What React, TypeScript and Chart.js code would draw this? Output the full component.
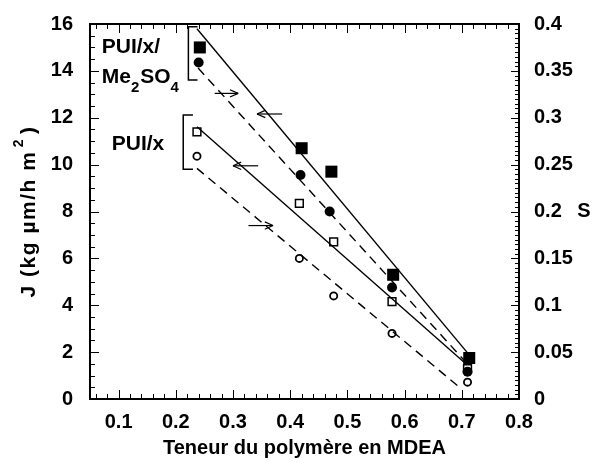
import React, { useEffect, useRef } from "react";
import { Chart, registerables } from "chart.js";

Chart.register(...registerables);

// ---------- data ----------
const filledSquareX = [0.242, 0.42, 0.472, 0.58, 0.713];
const filledSquareJ = [15.0, 10.7, 9.7, 5.3, 1.75];

const filledCircleX = [0.24, 0.418, 0.469, 0.578, 0.71];
const filledCircleS = [0.359, 0.239, 0.2, 0.119, 0.029];

const openSquareX = [0.237, 0.416, 0.476, 0.578, 0.71];
const openSquareJ = [11.4, 8.35, 6.7, 4.15, 1.3];

const openCircleX = [0.237, 0.416, 0.476, 0.578, 0.71];
const openCircleS = [0.259, 0.15, 0.11, 0.07, 0.018];

// fitted lines (end points)
const fitJMeX = [0.237, 0.714];
const fitJMeY = [15.8, 1.85];
const fitSMeX = [0.239, 0.709];
const fitSMeY = [0.353, 0.038];
const fitJPuiX = [0.237, 0.707];
const fitJPuiY = [11.62, 1.5];
const fitSPuiX = [0.237, 0.697];
const fitSPuiY = [0.246, 0.012];

// tick labels
const xTickLabels = [0.1, 0.2, 0.3, 0.4, 0.5, 0.6, 0.7, 0.8];
const jTickLabels = [0, 2, 4, 6, 8, 10, 12, 14, 16];
const sTickLabels = [0, 0.05, 0.1, 0.15, 0.2, 0.25, 0.3, 0.35, 0.4];

// tick marks: index range, ticks per labelled step, minor step
const xTickMarks = { first: 3, last: 40, per: 5, step: 0.02 };
const jTickMarks = { first: 0, last: 32, per: 4, step: 0.5 };
const sTickMarks = { first: 0, last: 80, per: 10, step: 0.005 };

// annotations (data units)
const arrowsJ = [
  { from: 0.386, to: 0.342, y: 12.16 },
  { from: 0.344, to: 0.3, y: 9.95 },
];
const arrowsS = [
  { from: 0.268, to: 0.309, y: 0.326 },
  { from: 0.327, to: 0.37, y: 0.185 },
];
const brackets = [
  { x: 0.222, hook: 0.238, top: 15.88, bottom: 13.61 },
  { x: 0.213, hook: 0.23, top: 12.12, bottom: 9.8 },
];
const groupLabels = [
  { x: 0.0705, y: 15.03, parts: [["PUI/x/", false]] },
  { x: 0.0705, y: 13.75, parts: [["Me", false], ["2", true], ["SO", false], ["4", true]] },
  { x: 0.088, y: 10.88, parts: [["PUI/x", false]] },
];

const xTitle = "Teneur du polymère en MDEA";
const jTitle = ["J (kg µm/h m", "2", ")"];
const sTitle = "S";

const FAMILY = 'Arial, "Liberation Sans", sans-serif';

const pts = (xs: number[], ys: number[]) => xs.map((x, i) => ({ x, y: ys[i] }));

function drawTicks(chart: any, ctx: CanvasRenderingContext2D) {
  const sx = chart.scales.x;
  const sy = chart.scales.y;
  const sy2 = chart.scales.y2;
  const ca = chart.chartArea;
  ctx.save();
  ctx.setTransform(1, 0, 0, 1, 0, 0);
  ctx.globalAlpha = 1;
  ctx.globalCompositeOperation = "source-over";
  ctx.fillStyle = "#000000";
  for (let i = xTickMarks.first; i <= xTickMarks.last; i++) {
    const px = Math.round(sx.getPixelForValue(i * xTickMarks.step));
    const len = i % xTickMarks.per === 0 ? 9 : 5;
    ctx.fillRect(px, ca.bottom - len, 1, len);
    ctx.fillRect(px, ca.top, 1, len);
  }
  for (let i = jTickMarks.first; i <= jTickMarks.last; i++) {
    const py = Math.round(sy.getPixelForValue(i * jTickMarks.step));
    const len = i % jTickMarks.per === 0 ? 9 : 5;
    ctx.fillRect(ca.left, py, len, 1);
  }
  for (let i = sTickMarks.first; i <= sTickMarks.last; i++) {
    const py = Math.round(sy2.getPixelForValue(i * sTickMarks.step));
    const len = i % sTickMarks.per === 0 ? 8 : 4;
    ctx.fillRect(ca.right - len, py, len, 1);
  }
  ctx.restore();
}

const decor = {
  id: "decor",
  afterDraw(chart: any) {
    const { ctx, scales } = chart;
    const x = scales.x, y = scales.y, y2 = scales.y2;
    const ca = chart.chartArea;
    ctx.save();
    ctx.strokeStyle = "#000";
    ctx.fillStyle = "#000";
    ctx.setLineDash([]);
    const seg = (a: number, b: number, c: number, d: number) => {
      ctx.beginPath();
      ctx.moveTo(a, b);
      ctx.lineTo(c, d);
      ctx.stroke();
    };
    ctx.lineWidth = 1.2;
    const arrow = (a: any, sc: any) => {
      const x1 = x.getPixelForValue(a.from);
      const x2 = x.getPixelForValue(a.to);
      const py = sc.getPixelForValue(a.y);
      seg(x1, py, x2, py);
      const dir = x2 > x1 ? -1 : 1;
      const hl = 9, ang = 0.42;
      seg(x2, py, x2 + dir * hl * Math.cos(ang), py - hl * Math.sin(ang));
      seg(x2, py, x2 + dir * hl * Math.cos(ang), py + hl * Math.sin(ang));
    };
    arrowsJ.forEach((a) => arrow(a, y));
    arrowsS.forEach((a) => arrow(a, y2));
    ctx.lineWidth = 1.5;
    brackets.forEach((b) => {
      const bx = x.getPixelForValue(b.x);
      const hx = x.getPixelForValue(b.hook);
      const t = y.getPixelForValue(b.top);
      const bt = y.getPixelForValue(b.bottom);
      ctx.beginPath();
      ctx.moveTo(hx, t);
      ctx.lineTo(bx, t);
      ctx.lineTo(bx, bt);
      ctx.lineTo(hx, bt);
      ctx.stroke();
    });
    ctx.textBaseline = "middle";
    ctx.textAlign = "left";
    groupLabels.forEach((g) => {
      let px = x.getPixelForValue(g.x);
      const py = y.getPixelForValue(g.y);
      g.parts.forEach(([txt, sub]: any) => {
        ctx.font = sub ? `bold 15px ${FAMILY}` : `bold 21px ${FAMILY}`;
        ctx.fillText(txt, px, sub ? py + 11 : py);
        px += ctx.measureText(txt).width + (sub ? 1 : 0);
      });
    });
    ctx.font = `bold 20px ${FAMILY}`;
    ctx.textAlign = "center";
    ctx.fillText(sTitle, y2.right - 10, (ca.top + ca.bottom) / 2);
    ctx.restore();

    ctx.save();
    ctx.fillStyle = "#000";
    ctx.textBaseline = "middle";
    ctx.translate(29, (ca.top + ca.bottom) / 2);
    ctx.rotate(-Math.PI / 2);
    ctx.textAlign = "left";
    try {
      (ctx as any).letterSpacing = "1.5px";
    } catch (e) {}
    const fMain = `bold 21px ${FAMILY}`;
    const fSup = `bold 14px ${FAMILY}`;
    ctx.font = fMain;
    const w0 = ctx.measureText(jTitle[0] + " ").width;
    const w2 = ctx.measureText(jTitle[2]).width;
    ctx.font = fSup;
    const w1 = ctx.measureText(jTitle[1]).width;
    let cx = -(w0 + w1 + w2) / 2;
    ctx.font = fMain;
    ctx.fillText(jTitle[0], cx, 0);
    cx += w0;
    ctx.font = fSup;
    ctx.fillText(jTitle[1], cx - 4, -10);
    cx += w1;
    ctx.font = fMain;
    ctx.fillText(jTitle[2], cx, 0);
    try {
      (ctx as any).letterSpacing = "0px";
    } catch (e) {}
    ctx.restore();

    drawTicks(chart, ctx);
  },
};

export default function App() {
  const ref = useRef<HTMLCanvasElement | null>(null);
  const overlay = useRef<HTMLCanvasElement | null>(null);
  useEffect(() => {
    if (!ref.current) return;
    const tickFont = { family: FAMILY, size: 20, weight: "bold" as const };
    const lineDs = (xs: number[], ys: number[], axis: string, dashed: boolean) => ({
      type: "scatter" as const,
      data: pts(xs, ys),
      yAxisID: axis,
      showLine: true,
      borderColor: "#000",
      borderWidth: 1.4,
      borderDash: dashed ? [9, 6] : [],
      pointRadius: 0,
      fill: false,
    });
    const chart = new Chart(ref.current, {
      type: "scatter",
      data: {
        datasets: [
          lineDs(fitJMeX, fitJMeY, "y", false),
          lineDs(fitSMeX, fitSMeY, "y2", true),
          lineDs(fitJPuiX, fitJPuiY, "y", false),
          lineDs(fitSPuiX, fitSPuiY, "y2", true),
          {
            data: pts(filledSquareX, filledSquareJ),
            yAxisID: "y",
            pointStyle: "rect",
            pointRadius: 8.5,
            backgroundColor: "#000",
            borderColor: "#000",
            borderWidth: 0,
          },
          {
            data: pts(filledCircleX, filledCircleS),
            yAxisID: "y2",
            pointStyle: "circle",
            pointRadius: 5,
            backgroundColor: "#000",
            borderColor: "#000",
            borderWidth: 0,
          },
          {
            data: pts(openSquareX, openSquareJ),
            yAxisID: "y",
            pointStyle: "rect",
            pointRadius: 5.5,
            backgroundColor: "#fff",
            borderColor: "#000",
            borderWidth: 1.5,
          },
          {
            data: pts(openCircleX, openCircleS),
            yAxisID: "y2",
            pointStyle: "circle",
            pointRadius: 3.6,
            backgroundColor: "#fff",
            borderColor: "#000",
            borderWidth: 1.8,
          },
        ],
      },
      options: {
        animation: false,
        responsive: false,
        layout: { padding: 0 },
        plugins: { legend: { display: false }, tooltip: { enabled: false } },
        scales: {
          x: {
            type: "linear",
            position: "bottom",
            min: 0.05,
            max: 0.8,
            grid: { display: false },
            border: { display: true, color: "#000", width: 2 },
            ticks: { color: "#000", font: tickFont, padding: 3, callback: (v: any) => String(v) },
            afterBuildTicks: (s: any) => {
              s.ticks = xTickLabels.map((v) => ({ value: v }));
            },
            afterFit: (s: any) => {
              s.height = 64;
            },
            title: {
              display: true,
              text: xTitle,
              color: "#000",
              font: { family: FAMILY, size: 20, weight: "bold" },
              padding: { top: 0, bottom: 3 },
            },
          },
          xTop: {
            type: "linear",
            position: "top",
            min: 0.05,
            max: 0.8,
            grid: { display: false },
            border: { display: true, color: "#000", width: 2 },
            ticks: { display: false },
            afterFit: (s: any) => {
              s.height = 24;
            },
          },
          y: {
            type: "linear",
            position: "left",
            min: 0,
            max: 16,
            grid: { display: false },
            border: { display: true, color: "#000", width: 2 },
            ticks: { color: "#000", font: tickFont, padding: 9, callback: (v: any) => String(v) },
            afterBuildTicks: (s: any) => {
              s.ticks = jTickLabels.map((v) => ({ value: v }));
            },
            afterFit: (s: any) => {
              s.width = 90;
            },
          },
          y2: {
            type: "linear",
            position: "right",
            min: 0,
            max: 0.4,
            grid: { display: false },
            border: { display: true, color: "#000", width: 2 },
            ticks: { color: "#000", font: tickFont, padding: 7, callback: (v: any) => String(v) },
            afterBuildTicks: (s: any) => {
              s.ticks = sTickLabels.map((v) => ({ value: v }));
            },
            afterFit: (s: any) => {
              s.width = 75;
            },
          },
        },
      } as any,
      plugins: [decor],
    });
    // tick marks also on a transparent overlay, positioned with the chart's scales
    if (overlay.current) {
      const octx = overlay.current.getContext("2d");
      if (octx) {
        octx.clearRect(0, 0, overlay.current.width, overlay.current.height);
        drawTicks(chart, octx);
      }
    }
    return () => chart.destroy();
  }, []);
  return (
    <div style={{ position: "absolute", left: 0, top: 0, width: 594, height: 463, background: "#fff" }}>
      <canvas ref={ref} width={594} height={463} style={{ position: "absolute", left: 0, top: 0 }} />
      <canvas
        ref={overlay}
        width={594}
        height={463}
        style={{ position: "absolute", left: 0, top: 0, pointerEvents: "none" }}
      />
    </div>
  );
}
